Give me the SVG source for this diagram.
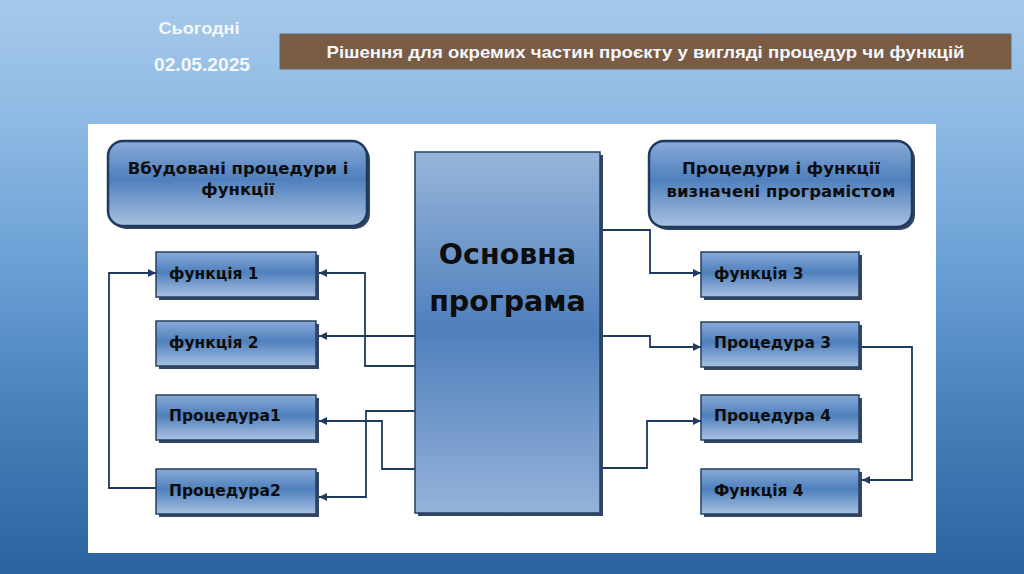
<svg xmlns="http://www.w3.org/2000/svg" width="1024" height="574" viewBox="0 0 1024 574">
<defs>
<linearGradient id="bg" x1="0" y1="0" x2="0" y2="1">
<stop offset="0" stop-color="#a6c9ea"/>
<stop offset="0.2" stop-color="#8fbae3"/>
<stop offset="0.45" stop-color="#6ca1d6"/>
<stop offset="0.7" stop-color="#4b82bd"/>
<stop offset="1" stop-color="#2c62a0"/>
</linearGradient>
<linearGradient id="box" x1="0" y1="0" x2="0" y2="1">
<stop offset="0" stop-color="#89aad7"/>
<stop offset="0.45" stop-color="#4f80bd"/>
<stop offset="1" stop-color="#a9c1e1"/>
</linearGradient>
<linearGradient id="main" x1="0" y1="0" x2="0" y2="1">
<stop offset="0" stop-color="#97b5da"/>
<stop offset="0.49" stop-color="#4f80bd"/>
<stop offset="1" stop-color="#95b2d9"/>
</linearGradient>
<marker id="arr" markerUnits="userSpaceOnUse" markerWidth="9" markerHeight="9" refX="8" refY="4" orient="auto">
<path d="M0,0 L8,4 L0,8 z" fill="#1f3a5f"/>
</marker>
</defs>
<style>
.shadow{fill:#1f3050;opacity:0.9}
.nb{fill:url(#box);stroke:#243f62;stroke-width:1.5}
.hb{fill:url(#box);stroke:#1f3a5f;stroke-width:2.5}
.t{font-family:"DejaVu Sans","Verdana",sans-serif;font-weight:bold;font-size:15.5px;fill:#0d0d0d}
.ht{font-family:"DejaVu Sans","Verdana",sans-serif;font-weight:bold;font-size:16.5px;fill:#0d0d0d;text-anchor:middle}
.mt{font-family:"DejaVu Sans","Verdana",sans-serif;font-weight:bold;font-size:28.5px;fill:#0d0d0d;text-anchor:middle}
.hd{font-family:"Liberation Sans","Arial",sans-serif;font-weight:bold;fill:#f4f7fb;text-anchor:middle}
.c{fill:none;stroke:#1f3a5f;stroke-width:1.8}
</style>
<rect x="0" y="0" width="1024" height="574" fill="url(#bg)"/>
<g id="date">
<text class="hd" x="199" y="34" font-size="17" textLength="81" lengthAdjust="spacingAndGlyphs">Сьогодні</text>
<text class="hd" x="202" y="71" font-size="18" textLength="96" lengthAdjust="spacingAndGlyphs">02.05.2025</text>
</g>
<g id="title">
<rect x="280" y="34" width="731" height="35" fill="#7a5c45" stroke="#6b6b6b" stroke-width="1"/>
<text class="hd" x="645.5" y="58" font-size="17" textLength="638" lengthAdjust="spacingAndGlyphs">Рішення для окремих частин проєкту у вигляді процедур чи функцій</text>
</g>
<rect x="88" y="124" width="848" height="429" fill="#ffffff"/>
<g id="connectors">
<path class="c" d="M415,366 H365 V273 H319" marker-end="url(#arr)"/>
<path class="c" d="M415,336 H319" marker-end="url(#arr)"/>
<path class="c" d="M415,469 H382 V421 H319" marker-end="url(#arr)"/>
<path class="c" d="M415,411 H366 V497 H319" marker-end="url(#arr)"/>
<path class="c" d="M156,488 H109 V273 H156" marker-end="url(#arr)"/>
<path class="c" d="M603,230 H650 V273 H701" marker-end="url(#arr)"/>
<path class="c" d="M603,336 H650 V347 H701" marker-end="url(#arr)"/>
<path class="c" d="M603,468 H647 V421 H701" marker-end="url(#arr)"/>
<path class="c" d="M862,347 H912 V480 H862" marker-end="url(#arr)"/>
</g>
<g id="builtin">
<rect class="shadow" x="111" y="144" width="259" height="85" rx="15"/>
<rect class="hb" x="108" y="141" width="259" height="85" rx="15"/>
<text class="ht" x="238" y="174">Вбудовані процедури і</text>
<text class="ht" x="238" y="195">функції</text>
</g>
<g id="userdef">
<rect class="shadow" x="652" y="144" width="263" height="86" rx="15"/>
<rect class="hb" x="649" y="141" width="263" height="86" rx="15"/>
<text class="ht" x="781" y="174">Процедури і функції</text>
<text class="ht" x="781" y="197">визначені програмістом</text>
</g>
<g id="main-program">
<rect class="shadow" x="418" y="155" width="185" height="361"/>
<rect x="415" y="152" width="185" height="361" fill="url(#main)" stroke="#243f62" stroke-width="1.5"/>
<text class="mt" x="507.5" y="264">Основна</text>
<text class="mt" x="507.5" y="311">програма</text>
</g>
<g id="f1">
<rect class="shadow" x="159" y="255" width="160" height="45"/>
<rect class="nb" x="156" y="252" width="160" height="45"/>
<text class="t" x="169" y="279">функція 1</text>
</g>
<g id="f2">
<rect class="shadow" x="159" y="324" width="160" height="45"/>
<rect class="nb" x="156" y="321" width="160" height="45"/>
<text class="t" x="169" y="348">функція 2</text>
</g>
<g id="p1">
<rect class="shadow" x="159" y="398" width="160" height="45"/>
<rect class="nb" x="156" y="395" width="160" height="45"/>
<text class="t" x="169" y="421">Процедура1</text>
</g>
<g id="p2">
<rect class="shadow" x="159" y="472" width="160" height="45"/>
<rect class="nb" x="156" y="469" width="160" height="45"/>
<text class="t" x="169" y="496">Процедура2</text>
</g>
<g id="f3">
<rect class="shadow" x="704" y="255" width="158" height="45"/>
<rect class="nb" x="701" y="252" width="158" height="45"/>
<text class="t" x="714" y="279">функція 3</text>
</g>
<g id="p3">
<rect class="shadow" x="704" y="325" width="158" height="45"/>
<rect class="nb" x="701" y="322" width="158" height="45"/>
<text class="t" x="714" y="348">Процедура 3</text>
</g>
<g id="p4">
<rect class="shadow" x="704" y="398" width="158" height="45"/>
<rect class="nb" x="701" y="395" width="158" height="45"/>
<text class="t" x="714" y="421">Процедура 4</text>
</g>
<g id="f4">
<rect class="shadow" x="704" y="472" width="158" height="45"/>
<rect class="nb" x="701" y="469" width="158" height="45"/>
<text class="t" x="714" y="496">Функція 4</text>
</g>
</svg>
